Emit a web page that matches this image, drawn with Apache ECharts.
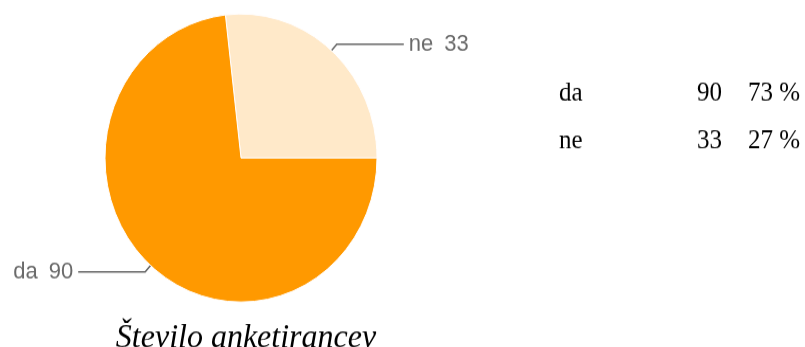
<!DOCTYPE html>
<html>
<head>
<meta charset="utf-8">
<script src="https://cdn.jsdelivr.net/npm/echarts@6/dist/echarts.min.js"></script>
<style>
  html, body { margin: 0; padding: 0; background: #fff; overflow: hidden; width: 805px; height: 347px; }
  /* the whole figure is drawn slightly taller than wide */
  #chart { width: 805px; height: 328px; transform: scaleY(1.0588); transform-origin: 0 0; }
</style>
</head>
<body>
<div id="chart"></div>
<script>
// survey answers
const categories = ['ne', 'da'];
const counts = [33, 90];
const tableOrder = ['da', 'ne'];
const chartTitle = 'Število anketirancev';
const sliceColors = { da: '#FF9900', ne: '#FFE9C9' };

const total = counts.reduce((a, b) => a + b, 0);
const valueOf = name => counts[categories.indexOf(name)];
const pct = name => Math.round(valueOf(name) / total * 100) + ' %';

const chart = echarts.init(document.getElementById('chart'), null, { renderer: 'canvas' });

// summary table to the right of the pie
const tableRows = [];
tableOrder.forEach((name, i) => {
  const y = 95 + i * 45;
  const font = '25px "Liberation Serif", "Times New Roman", serif';
  tableRows.push(
    { type: 'text', left: 559, top: y - 19, style: { text: name, font: font, fill: '#000' } },
    { type: 'text', right: 805 - 722, top: y - 19, style: { text: String(valueOf(name)), font: font, fill: '#000', textAlign: 'right' } },
    { type: 'text', right: 5, top: y - 19, style: { text: pct(name), font: font, fill: '#000', textAlign: 'right' } }
  );
});

const option = {
  animation: false,
  backgroundColor: '#fff',
  title: {
    text: chartTitle,
    left: 241,
    top: 299,
    textAlign: 'center',
    textStyle: {
      fontFamily: '"Liberation Serif", "Times New Roman", serif',
      fontStyle: 'italic',
      fontWeight: 'normal',
      fontSize: 32,
      color: '#000'
    }
  },
  graphic: tableRows,
  series: [{
    type: 'pie',
    center: [241, 149.2],
    radius: 136,
    // first slice ("ne") ends exactly at three o'clock
    startAngle: 360 * counts[0] / total,
    clockwise: true,
    silent: true,
    itemStyle: { borderColor: '#fff', borderWidth: 1 },
    label: {
      show: true,
      formatter: '{b}{gap|}{c}',
      fontFamily: '"Liberation Sans", Arial, sans-serif',
      fontSize: 22,
      color: '#6a6a6a',
      distanceToLabelLine: 5,
      rich: {
        gap: { width: 11 }
      }
    },
    labelLine: {
      show: true,
      length: 8,
      length2: 67,
      lineStyle: { color: '#666', width: 1.5 }
    },
    data: categories.map((name, i) => ({
      name: name,
      value: counts[i],
      itemStyle: { color: sliceColors[name] }
    }))
  }]
};

chart.setOption(option);
</script>
</body>
</html>
